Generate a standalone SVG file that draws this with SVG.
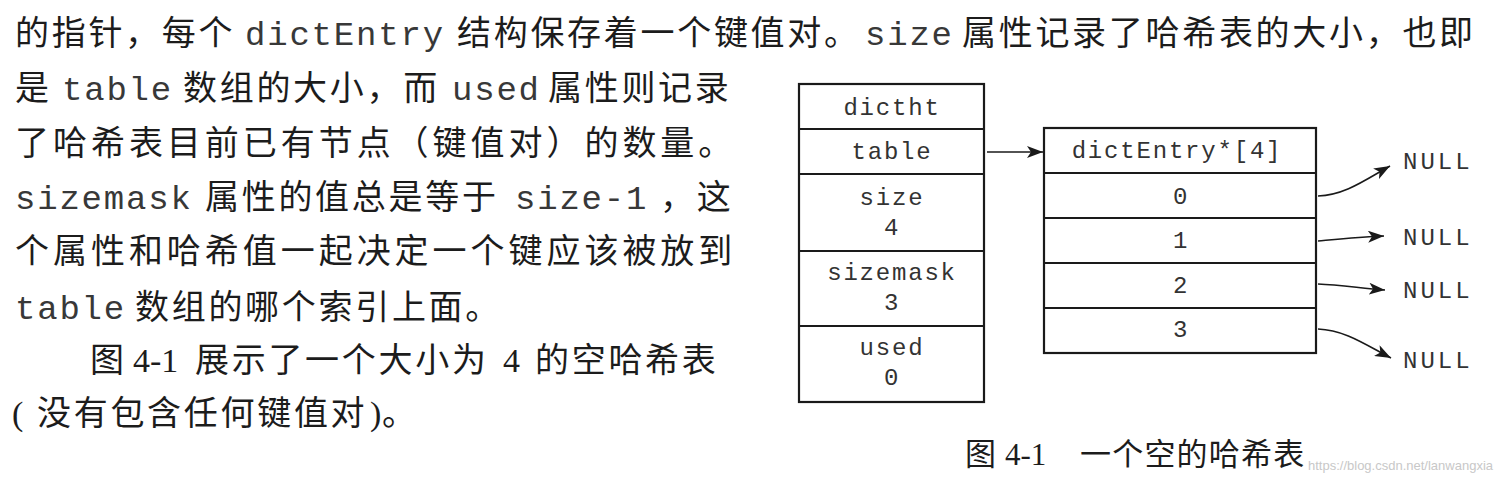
<svg xmlns="http://www.w3.org/2000/svg" width="1498" height="482" viewBox="0 0 1498 482">
<style>
.cjk{font-family:"Noto Sans CJK SC","Noto Sans CJK JP",sans-serif;font-size:34px;fill:#1c1c1c;letter-spacing:2.7px}
.mono{font-family:"Liberation Mono","DejaVu Sans Mono",monospace;font-size:34px;fill:#383838;letter-spacing:1.8px}
.serif{font-family:"Liberation Serif","Noto Sans CJK SC",serif;font-size:34px;fill:#1c1c1c}
.cap{font-family:"Noto Sans CJK SC",sans-serif;font-size:31px;fill:#1c1c1c}
.capn{font-family:"Liberation Serif",serif;font-size:31px;fill:#1c1c1c}
.box{fill:#fff;stroke:#1a1a1a;stroke-width:2.2}
.div{stroke:#1a1a1a;stroke-width:2.2}
.lbl{font-family:"Liberation Mono","DejaVu Sans Mono",monospace;font-size:24px;fill:#333;letter-spacing:1.8px;text-anchor:middle}
.null{font-family:"Liberation Mono","DejaVu Sans Mono",monospace;font-size:24px;fill:#333;letter-spacing:3px}
.conn{fill:none;stroke:#1a1a1a;stroke-width:1.6;marker-end:url(#arr)}
.wm{font-family:"Liberation Sans",Arial,sans-serif;font-size:13px;fill:#c8c8c8}
</style>
<defs>
<marker id="arr" markerUnits="userSpaceOnUse" markerWidth="18" markerHeight="12" refX="16" refY="6" orient="auto">
<path d="M0,0 L16,6 L0,12 L4,6 Z" fill="#1a1a1a"/>
</marker>
</defs>
<rect width="1498" height="482" fill="#fff"/>

<g id="body-text">
<text y="45"><tspan class="cjk" x="15">的指针，每个</tspan><tspan class="mono" x="245">dictEntry</tspan><tspan class="cjk" x="457">结构保存着一个键值对。</tspan><tspan class="mono" x="865">size</tspan><tspan class="cjk" x="962">属性记录了哈希表的大小，也即</tspan></text>
<text y="100"><tspan class="cjk" x="15">是</tspan><tspan class="mono" x="62">table</tspan><tspan class="cjk" x="183">数组的大小，而</tspan><tspan class="mono" x="452">used</tspan><tspan class="cjk" x="548">属性则记录</tspan></text>
<text class="cjk" x="15" y="155" textLength="720" lengthAdjust="spacing">了哈希表目前已有节点（键值对）的数量。</text>
<text y="209"><tspan class="mono" x="15">sizemask</tspan><tspan class="cjk" x="205">属性的值总是等于</tspan><tspan class="mono" x="515">size-1</tspan><tspan class="cjk" x="660">，这</tspan></text>
<text class="cjk" x="15" y="263" textLength="720" lengthAdjust="spacing">个属性和哈希值一起决定一个键应该被放到</text>
<text y="319"><tspan class="mono" x="15">table</tspan><tspan class="cjk" x="135">数组的哪个索引上面。</tspan></text>
<text y="372"><tspan class="cjk" x="90">图</tspan><tspan class="serif" x="133">4-1</tspan><tspan class="cjk" x="195">展示了一个大小为</tspan><tspan class="serif" x="503">4</tspan><tspan class="cjk" x="535" letter-spacing="6">的空哈希表</tspan></text>
<text y="425"><tspan class="serif" x="12">(</tspan><tspan class="cjk" x="37">没有包含任何键值对</tspan><tspan class="serif" x="370">)</tspan><tspan class="cjk" x="382">。</tspan></text>
</g>

<g id="node-dictht">
<rect class="box" x="799" y="84" width="185" height="318"/>
<line class="div" x1="799" y1="129" x2="984" y2="129"/>
<line class="div" x1="799" y1="174" x2="984" y2="174"/>
<line class="div" x1="799" y1="251" x2="984" y2="251"/>
<line class="div" x1="799" y1="326" x2="984" y2="326"/>
<text class="lbl" x="892" y="115">dictht</text>
<text class="lbl" x="892" y="159">table</text>
<text class="lbl" x="892" y="205">size</text>
<text class="lbl" x="892" y="235">4</text>
<text class="lbl" x="892" y="280">sizemask</text>
<text class="lbl" x="892" y="310">3</text>
<text class="lbl" x="892" y="355">used</text>
<text class="lbl" x="892" y="385">0</text>
</g>

<g id="node-array">
<rect class="box" x="1044" y="128" width="272" height="225"/>
<line class="div" x1="1044" y1="173" x2="1316" y2="173"/>
<line class="div" x1="1044" y1="218" x2="1316" y2="218"/>
<line class="div" x1="1044" y1="263" x2="1316" y2="263"/>
<line class="div" x1="1044" y1="308" x2="1316" y2="308"/>
<text class="lbl" x="1177" y="158">dictEntry*[4]</text>
<text class="lbl" x="1181" y="204">0</text>
<text class="lbl" x="1181" y="248">1</text>
<text class="lbl" x="1181" y="293">2</text>
<text class="lbl" x="1181" y="337">3</text>
</g>

<g id="node-null-0"><text class="null" x="1403" y="169">NULL</text></g>
<g id="node-null-1"><text class="null" x="1403" y="245">NULL</text></g>
<g id="node-null-2"><text class="null" x="1403" y="298">NULL</text></g>
<g id="node-null-3"><text class="null" x="1403" y="368">NULL</text></g>

<g id="connectors">
<path class="conn" d="M987,152 L1043,152"/>
<path class="conn" d="M1318,196 C1345,195 1365,180 1390,166"/>
<path class="conn" d="M1318,241 C1340,239 1360,237 1384,236"/>
<path class="conn" d="M1318,284 C1340,285 1360,288 1385,290"/>
<path class="conn" d="M1318,329 C1345,330 1366,345 1391,358"/>
</g>

<g id="caption">
<text y="465"><tspan class="cap" x="965">图</tspan><tspan class="capn" x="1005">4-1</tspan><tspan class="cap" x="1080" letter-spacing="1.2">一个空的哈希表</tspan></text>
<text class="wm" x="1308" y="470">https://blog.csdn.net/lanwangxia</text>
</g>
</svg>
